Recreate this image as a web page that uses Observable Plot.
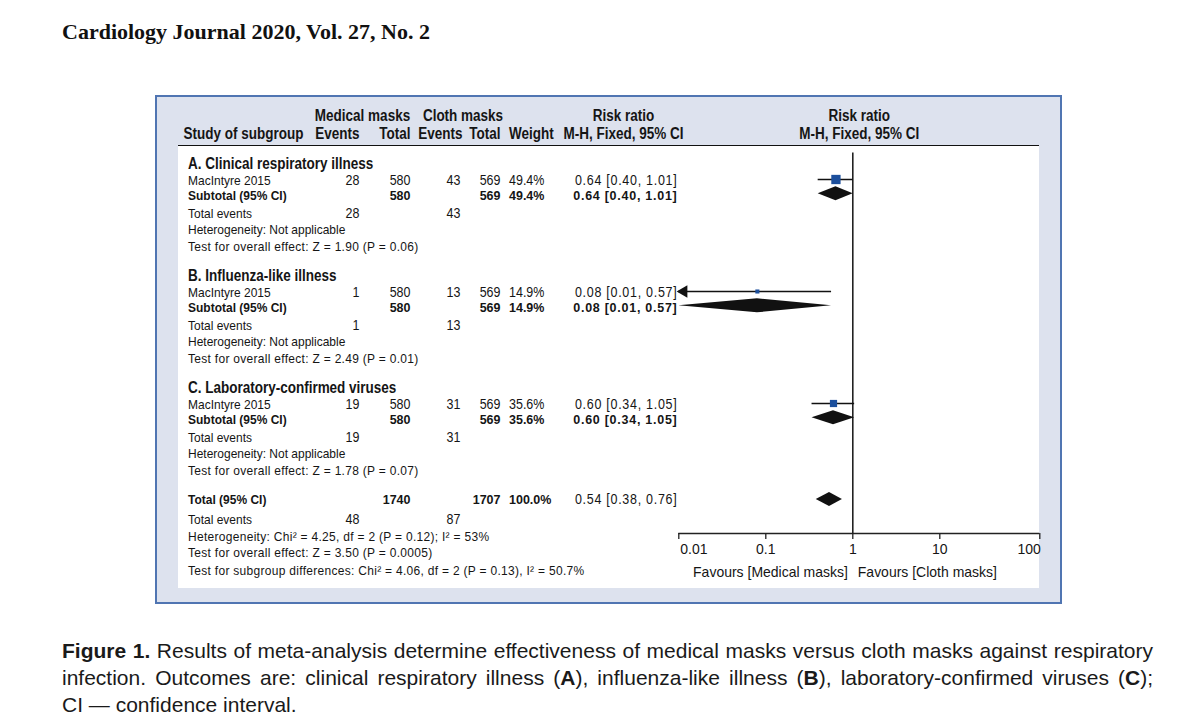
<!DOCTYPE html>
<html><head><meta charset="utf-8">
<script src="https://cdn.jsdelivr.net/npm/d3@7"></script>
<script src="https://cdn.jsdelivr.net/npm/@observablehq/plot@0.6"></script>
<style>
body{margin:0;width:1200px;height:725px;background:#fff;position:relative;overflow:hidden;font-family:'Liberation Sans',Arial,Helvetica,sans-serif;color:#151515}
#journal{position:absolute;left:62px;top:21px;font:bold 22px/22px 'Liberation Serif','Times New Roman',serif;white-space:nowrap;color:#111}
#box{position:absolute;left:155px;top:95px;width:903px;height:505px;background:#dde2ee;border:2px solid #5075b2}
#panel{position:absolute;left:178px;top:145px;width:861px;height:443px;box-sizing:border-box;background:#fff;border-top:1.5px solid #111}
#chart{position:absolute;left:0;top:95px}
#caption{position:absolute;left:62px;top:637px;width:1091px;font-size:19px;line-height:27px;color:#1a1a1a}
#caption .j{text-align:justify;text-align-last:justify}
#caption.measuring .j{text-align:left;text-align-last:left}
text[aria-label^="ci|"]{letter-spacing:0.8px}
text[aria-label^="eq|"]{letter-spacing:0.33px}
</style>
</head><body>
<div id="journal">Cardiology Journal 2020, Vol. 27, No. 2</div>
<div id="box"></div>
<div id="panel"></div>
<div id="chart"></div>
<div id="caption">
<div class="j"><span class="m"><b>Figure 1.</b> Results of meta-analysis determine effectiveness of medical masks versus cloth masks against respiratory</span></div>
<div class="j"><span class="m">infection. Outcomes are: clinical respiratory illness (<b>A</b>), influenza-like illness (<b>B</b>), laboratory-confirmed viruses (<b>C</b>);</span></div>
<div>CI — confidence interval.</div>
</div>
<script>
// ---------------- data ----------------
const headerTop = ["Medical masks", "Cloth masks", "Risk ratio", "Risk ratio"];
const headerBottom = ["Study of subgroup", "Events", "Total", "Events", "Total", "Weight", "M-H, Fixed, 95% CI", "M-H, Fixed, 95% CI"];
const subgroups = ["A. Clinical respiratory illness", "B. Influenza-like illness", "C. Laboratory-confirmed viruses"];
const studyNames = ["MacIntyre 2015", "MacIntyre 2015", "MacIntyre 2015"];
const medEvents = [28, 1, 19];
const medTotal = [580, 580, 580];
const clothEvents = [43, 13, 31];
const clothTotal = [569, 569, 569];
const weights = [49.4, 14.9, 35.6];
const rr = [0.64, 0.08, 0.60];
const rrLow = [0.40, 0.01, 0.34];
const rrHigh = [1.01, 0.57, 1.05];
const heterogeneityTexts = ["Heterogeneity: Not applicable", "Heterogeneity: Not applicable", "Heterogeneity: Not applicable"];
const overallTests = ["Test for overall effect: Z = 1.90 (P = 0.06)", "Test for overall effect: Z = 2.49 (P = 0.01)", "Test for overall effect: Z = 1.78 (P = 0.07)"];
const totalLabel = "Total (95% CI)";
const totalMedTotal = 1740, totalClothTotal = 1707, totalWeight = 100.0;
const totalMedEvents = 48, totalClothEvents = 87;
const totalRR = 0.54, totalLow = 0.38, totalHigh = 0.76;
const footerTexts = [
  "Heterogeneity: Chi\u00b2 = 4.25, df = 2 (P = 0.12); I\u00b2 = 53%",
  "Test for overall effect: Z = 3.50 (P = 0.0005)",
  "Test for subgroup differences: Chi\u00b2 = 4.06, df = 2 (P = 0.13), I\u00b2 = 50.7%"
];
const tickValues = [0.01, 0.1, 1, 10, 100];
const tickLabels = ["0.01", "0.1", "1", "10", "100"];
const favourLabels = ["Favours [Medical masks]", "Favours [Cloth masks]"];
const nullValue = 1;

// ---------------- layout ----------------
const TOP = 95, H = 510, W = 1200;
const axisY = 533;
const ML = 678.3, MR = W - 1039.3;
const col = {name: 187.5, head: 183, medEv: 359, medTot: 410, clEv: 460, clEvHead: 462, clTot: 500, w: 508.5, ci: 677, ciHead: 623,
             medHead: 362, clHead: 462.5, plotHead: (ML + W - MR) / 2};
// size = width-matching font size, k = vertical stretch (condensed look)
const st = {
  head: {size: 13.5, k: 1.2, weight: "bold"},
  title: {size: 13.5, k: 1.25, weight: "bold"},
  sub: {size: 12, k: 1.12, weight: "bold"},
  subNum: {size: 12.5, k: 1.08, weight: "bold"},
  txt: {size: 12, k: 1.12, weight: "normal"},
  num: {size: 12.5, k: 1.1, weight: "normal"}
};
const markShift = -1.5, diamondHalf = 7;

const G = [];
let yy = 163;
subgroups.forEach((s, i) => {
  const g = {title: yy};
  g.study = g.title + 17.5; g.sub = g.study + 14.3; g.events = g.sub + 18;
  g.het = g.events + 16.8; g.test = g.het + 16.4;
  G.push(g);
  yy = g.test + 29;
});
const totalY = G[G.length - 1].test + 29;
const totEvY = totalY + 20;
const footY = [totEvY + 17, totEvY + 33.5, totEvY + 51];

const fmtCI = (e, l, h) => `${e.toFixed(2)} [${l.toFixed(2)}, ${h.toFixed(2)}]`;

// ---------------- text items ----------------
const T = [];
const add = (y, text, x, anchor, s, cls = "t") => T.push({y, text: String(text), x, anchor, s, cls});

add(115.5, headerTop[0], col.medHead, "middle", "head");
add(115.5, headerTop[1], col.clHead, "middle", "head");
add(115.5, headerTop[2], col.ciHead, "middle", "head");
add(115.5, headerTop[3], col.plotHead, "middle", "head");
add(133.5, headerBottom[0], col.head, "start", "head");
add(133.5, headerBottom[1], col.medEv, "end", "head");
add(133.5, headerBottom[2], col.medTot, "end", "head");
add(133.5, headerBottom[3], col.clEvHead, "end", "head");
add(133.5, headerBottom[4], col.clTot, "end", "head");
add(133.5, headerBottom[5], col.w, "start", "head");
add(133.5, headerBottom[6], col.ciHead, "middle", "head");
add(133.5, headerBottom[7], col.plotHead, "middle", "head");

G.forEach((g, i) => {
  add(g.title, subgroups[i], col.name, "start", "title");
  add(g.study, studyNames[i], col.name, "start", "txt");
  add(g.study, medEvents[i], col.medEv, "end", "num");
  add(g.study, medTotal[i], col.medTot, "end", "num");
  add(g.study, clothEvents[i], col.clEv, "end", "num");
  add(g.study, clothTotal[i], col.clTot, "end", "num");
  add(g.study, weights[i].toFixed(1) + "%", col.w, "start", "num");
  add(g.study, fmtCI(rr[i], rrLow[i], rrHigh[i]), col.ci, "end", "num", "ci");
  add(g.sub, "Subtotal (95% CI)", col.name, "start", "sub");
  add(g.sub, medTotal[i], col.medTot, "end", "subNum");
  add(g.sub, clothTotal[i], col.clTot, "end", "subNum");
  add(g.sub, weights[i].toFixed(1) + "%", col.w, "start", "subNum");
  add(g.sub, fmtCI(rr[i], rrLow[i], rrHigh[i]), col.ci, "end", "subNum", "ci");
  add(g.events, "Total events", col.name, "start", "txt");
  add(g.events, medEvents[i], col.medEv, "end", "num");
  add(g.events, clothEvents[i], col.clEv, "end", "num");
  add(g.het, heterogeneityTexts[i], col.name, "start", "txt");
  add(g.test, overallTests[i], col.name, "start", "txt", "eq");
});
add(totalY, totalLabel, col.name, "start", "sub");
add(totalY, totalMedTotal, col.medTot, "end", "subNum");
add(totalY, totalClothTotal, col.clTot, "end", "subNum");
add(totalY, totalWeight.toFixed(1) + "%", col.w, "start", "subNum");
add(totalY, fmtCI(totalRR, totalLow, totalHigh), col.ci, "end", "num", "ci");
add(totEvY, "Total events", col.name, "start", "txt");
add(totEvY, totalMedEvents, col.medEv, "end", "num");
add(totEvY, totalClothEvents, col.clEv, "end", "num");
footerTexts.forEach((t, i) => add(footY[i], t, col.name, "start", "txt", "eq"));

const textMarks = [...d3.group(T, d => [d.x, d.anchor, d.s, d.cls].join("|")).values()].map(arr => {
  const d0 = arr[0], s = st[d0.s];
  return Plot.text(arr, {y: "y", text: "text", frameAnchor: "left", dx: d0.x - ML,
    textAnchor: d0.anchor, fontSize: s.size * s.k, fontWeight: s.weight, ariaLabel: () => `${d0.cls}|k=${s.k}`});
});

// ---------------- forest data ----------------
const studyRows = G.map((g, i) => ({y: g.study + markShift, est: rr[i], lo: rrLow[i], hi: rrHigh[i], w: weights[i]}));
const pooled = G.map((g, i) => ({id: i, y: g.sub + markShift, est: rr[i], lo: rrLow[i], hi: rrHigh[i]}))
  .concat([{id: 3, y: totalY, est: totalRR, lo: totalLow, hi: totalHigh}]);
const diamondPts = pooled.flatMap(p => [
  {id: p.id, x: p.lo, y1: p.y, y2: p.y},
  {id: p.id, x: p.est, y1: p.y - diamondHalf, y2: p.y + diamondHalf},
  {id: p.id, x: p.hi, y1: p.y, y2: p.y}
]);
const clipped = studyRows.filter(d => d.lo <= tickValues[0]);

const blue = "#1c4f9c";
const axisK = 1.08;
const axLab = () => `ax|k=${axisK}`;
const chart = Plot.plot({
  width: W, height: H,
  marginLeft: ML, marginRight: MR, marginTop: 0, marginBottom: TOP + H - axisY,
  x: {type: "log", domain: [tickValues[0], tickValues[3], tickValues[4]], range: [ML, 939.3, W - MR], axis: null},
  y: {type: "linear", domain: [TOP, TOP + H], range: [0, H], axis: null},
  r: {type: "linear", domain: [d3.min(weights), d3.max(weights)], range: [2.3, 5.25]},
  style: {background: "transparent", overflow: "visible", fontFamily: "'Liberation Sans', Arial, Helvetica, sans-serif", color: "#151515"},
  marks: [
    Plot.ruleX([nullValue], {x: d => d, y1: 152.5, y2: axisY, stroke: "#222", strokeWidth: 1.6}),
    Plot.ruleY(studyRows, {y: "y", x1: "lo", x2: "hi", stroke: "#111", strokeWidth: 1.3}),
    Plot.dot(clipped, {x: "lo", y: "y", symbol: "triangle", rotate: -90, r: 4.6, fill: "#111", dx: 5}),
    Plot.dot(studyRows, {x: "est", y: "y", r: "w", symbol: "square", fill: blue}),
    Plot.areaY(diamondPts, {x: "x", y1: "y1", y2: "y2", z: "id", fill: "#111", curve: "linear"}),
    Plot.ruleY([axisY], {x1: tickValues[0], x2: tickValues[tickValues.length - 1], stroke: "#222", strokeWidth: 1.4}),
    Plot.ruleX(tickValues, {x: d => d, y1: axisY, y2: axisY + 6, stroke: "#222", strokeWidth: 1.3}),
    Plot.text(tickValues.slice(0, 1), {x: d => d, y: () => 549, text: (d) => tickLabels[tickValues.indexOf(d)], textAnchor: "start", dx: 1.5, fontSize: 14 * axisK, ariaLabel: axLab}),
    Plot.text(tickValues.slice(1, -1), {x: d => d, y: () => 549, text: (d) => tickLabels[tickValues.indexOf(d)], fontSize: 14 * axisK, ariaLabel: axLab}),
    Plot.text(tickValues.slice(-1), {x: d => d, y: () => 549, text: (d) => tickLabels[tickValues.indexOf(d)], textAnchor: "end", dx: 1, fontSize: 14 * axisK, ariaLabel: axLab}),
    Plot.text(favourLabels.slice(0, 1), {x: () => nullValue, y: () => 572, text: d => d, textAnchor: "end", dx: -5, fontSize: 14 * axisK, ariaLabel: axLab}),
    Plot.text(favourLabels.slice(1), {x: () => nullValue, y: () => 572, text: d => d, textAnchor: "start", dx: 5, fontSize: 14 * axisK, ariaLabel: axLab}),
    ...textMarks
  ]
});

// condensed look: squeeze glyphs horizontally around their anchor
chart.querySelectorAll("text[aria-label]").forEach(t => {
  const m = /\|k=([\d.]+)/.exec(t.getAttribute("aria-label") || "");
  if (!m) return;
  const k = +m[1];
  if (k === 1) return;
  const tr = t.getAttribute("transform");
  if (tr && tr.includes("translate")) t.setAttribute("transform", `${tr} scale(${1 / k},1)`);
  else {
    const x = parseFloat(t.getAttribute("x") || 0), y = parseFloat(t.getAttribute("y") || 0);
    t.setAttribute("transform", `translate(${x},${y}) scale(${1 / k},1) translate(${-x},${-y})`);
  }
});
document.getElementById("chart").appendChild(chart);

// caption: pick the largest size at which each justified line fits on one line
(function fitCaption() {
  const cap = document.getElementById("caption");
  const spans = [...cap.querySelectorAll(".m")];
  cap.classList.add("measuring");
  spans.forEach(s => { s.style.whiteSpace = "nowrap"; });
  let size = 21;
  cap.style.fontSize = size + "px";
  while (size > 16 && spans.some(s => s.getBoundingClientRect().width > 1086)) {
    size -= 0.25;
    cap.style.fontSize = size + "px";
  }
  spans.forEach(s => { s.style.whiteSpace = ""; });
  cap.classList.remove("measuring");
})();
</script>
</body></html>
